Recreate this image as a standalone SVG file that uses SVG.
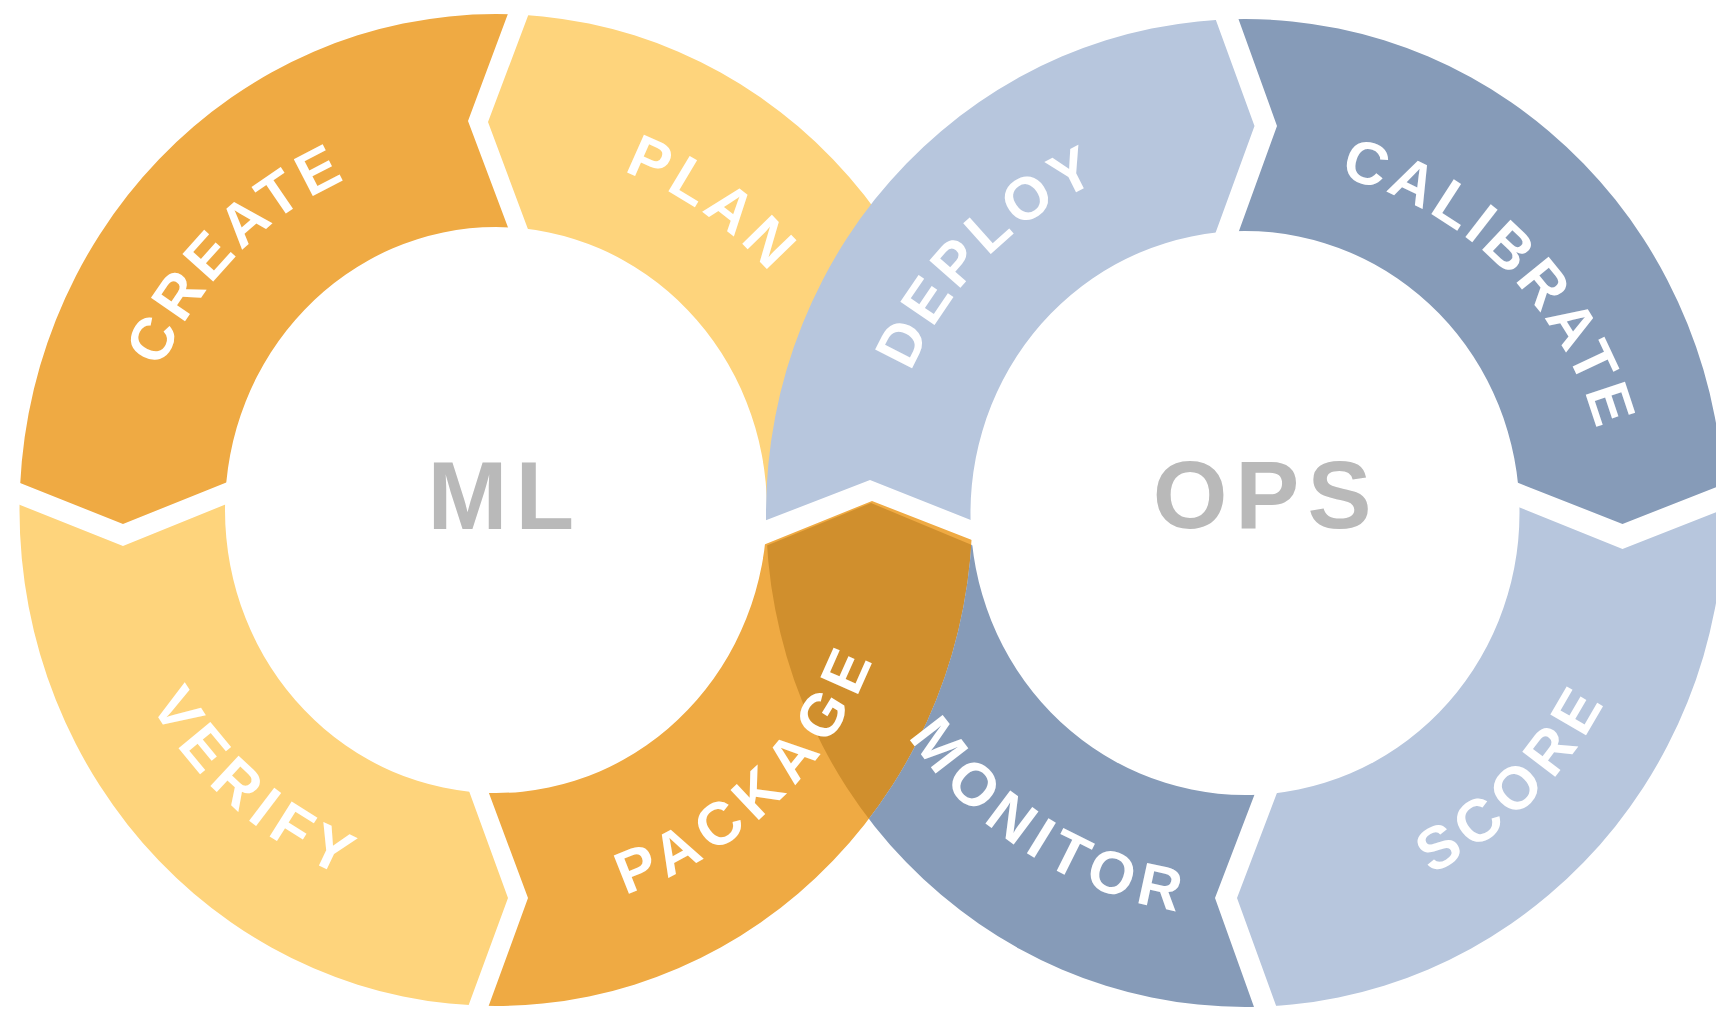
<svg xmlns="http://www.w3.org/2000/svg" width="1716" height="1024" viewBox="0 0 1716 1024">
<defs>
<style>
.lbl{font-family:"Liberation Sans",Arial,sans-serif;font-size:60px;font-weight:bold;fill:#FFFFFF;text-anchor:middle;}
.ctr{font-family:"Liberation Sans",Arial,sans-serif;font-size:96px;font-weight:bold;fill:#B9B9B9;letter-spacing:8px;}
.orange{fill:#EFAA43}
.yellow{fill:#FED47C}
.lblue{fill:#B7C6DD}
.dblue{fill:#869BB8}
.dark{fill:#D08F2D}
</style>
<path id="mlRing" fill-rule="evenodd" d="M 19.5 510 A 476.5 496 0 1 1 972.5 510 A 476.5 496 0 1 1 19.5 510 Z M 225 510 A 271 283 0 1 0 767 510 A 271 283 0 1 0 225 510 Z"/>
<path id="opsRing" fill-rule="evenodd" d="M 766 513 A 479 494 0 1 1 1724 513 A 479 494 0 1 1 766 513 Z M 970.5 513 A 274.5 282 0 1 0 1519.5 513 A 274.5 282 0 1 0 970.5 513 Z"/>
<clipPath id="cCreate"><polygon points="528,-40 468,121 512,238 496,510 235,479 123,524 -40,459 -40,-40"/></clipPath>
<clipPath id="cPlan"><polygon points="549,-40 968,-40 968,517 870,478 756.7,523.1 496,510 532,240 488,122"/></clipPath>
<clipPath id="cVerify"><polygon points="-40,481 123,546 234,501 496,510 465,780 508,898 447,1064 -40,1064"/></clipPath>
<clipPath id="cPackage"><polygon points="467.5,1064 528,898 485,782.5 496,510 757.6,547.2 872,501 1040,566.5 1040,1064"/></clipPath>
<clipPath id="cDeploy"><polygon points="1194,-40 1254.5,126 1212,242.6 1245,513 980.8,524 870,480 700,545.8 700,-40"/></clipPath>
<clipPath id="cCalibrate"><polygon points="1217.2,-40 1780,-40 1780,462 1622.5,524 1505.4,477.8 1245,513 1234.8,242.6 1277,126"/></clipPath>
<clipPath id="cScore"><polygon points="1780,487 1622.5,549 1510.9,503.9 1245,513 1280.5,783.6 1237,898 1297.2,1064 1780,1064"/></clipPath>
<clipPath id="cMonitor"><polygon points="1274.4,1064 1215,898 1257.9,785.8 1245,513 982.1,549.2 871,503 700,572.7 700,1064"/></clipPath>
<clipPath id="cOpsRing"><path clip-rule="evenodd" d="M 766 513 A 479 494 0 1 1 1724 513 A 479 494 0 1 1 766 513 Z M 970.5 513 A 274.5 282 0 1 0 1519.5 513 A 274.5 282 0 1 0 970.5 513 Z"/></clipPath>
<clipPath id="cOutsideML"><path clip-rule="evenodd" d="M -10 -10 H 1730 V 1034 H -10 Z M 19.5 510 A 476.5 496 0 1 1 972.5 510 A 476.5 496 0 1 1 19.5 510 Z"/></clipPath>
<path id="tCreate" d="M 199.9 722.2 A 364.5 364.5 0 0 1 704.0 211.0"/>
<path id="tPlan" d="M 240.7 254.7 A 362.5 362.5 0 0 1 825.5 664.2"/>
<path id="tVerify" d="M 158.6 304.4 A 396.5 396.5 0 0 0 744.4 820.9"/>
<path id="tPackage" d="M 259.2 838.2 A 404.5 404.5 0 0 0 832.3 284.8"/>
<path id="tDeploy" d="M 948.4 721.4 A 362.5 362.5 0 0 1 1452.4 215.7"/>
<path id="tCalibrate" d="M 1042.8 231.2 A 359.5 359.5 0 0 1 1545.2 730.2"/>
<path id="tMonitor" d="M 871.7 358.4 A 404 404 0 0 0 1542.9 785.9"/>
<path id="tScore" d="M 1013.0 846.8 A 406.5 406.5 0 0 0 1577.2 278.7"/>
</defs>
<rect width="1716" height="1024" fill="#FFFFFF"/>

<g id="create">
<use href="#mlRing" class="orange" clip-path="url(#cCreate)"/>
<text class="lbl" letter-spacing="5.4"><textPath href="#tCreate" startOffset="50%">CREATE</textPath></text>
</g>
<g id="verify">
<use href="#mlRing" class="yellow" clip-path="url(#cVerify)"/>
<text class="lbl" letter-spacing="9"><textPath href="#tVerify" startOffset="50%">VERIFY</textPath></text>
</g>
<g id="plan">
<use href="#mlRing" class="yellow" clip-path="url(#cPlan)"/>
<text class="lbl" letter-spacing="5.4"><textPath href="#tPlan" startOffset="50%">PLAN</textPath></text>
</g>
<g id="deploy">
<use href="#opsRing" class="lblue" clip-path="url(#cDeploy)"/>
<text class="lbl" letter-spacing="5.3"><textPath href="#tDeploy" startOffset="50%">DEPLOY</textPath></text>
</g>
<g id="calibrate">
<use href="#opsRing" class="dblue" clip-path="url(#cCalibrate)"/>
<text class="lbl" letter-spacing="4.4"><textPath href="#tCalibrate" startOffset="50%">CALIBRATE</textPath></text>
</g>
<g id="score">
<use href="#opsRing" class="lblue" clip-path="url(#cScore)"/>
<text class="lbl" letter-spacing="8.3"><textPath href="#tScore" startOffset="50%">SCORE</textPath></text>
</g>
<g id="package">
<use href="#mlRing" class="orange" clip-path="url(#cPackage)"/>
<g clip-path="url(#cPackage)"><g clip-path="url(#cMonitor)"><g clip-path="url(#cOpsRing)"><use href="#mlRing" class="dark"/></g></g></g>
<text class="lbl" letter-spacing="9.3"><textPath href="#tPackage" startOffset="50%">PACKAGE</textPath></text>
</g>
<g id="monitor">
<g clip-path="url(#cOutsideML)"><use href="#opsRing" class="dblue" clip-path="url(#cMonitor)"/></g>
<text class="lbl" letter-spacing="7.9"><textPath href="#tMonitor" startOffset="50%">MONITOR</textPath></text>
</g>
<g id="ml-center">
<text class="ctr" x="427.5" y="528.5">ML</text>
</g>
<g id="ops-center">
<text class="ctr" x="1152.7" y="528">OPS</text>
</g>
</svg>
